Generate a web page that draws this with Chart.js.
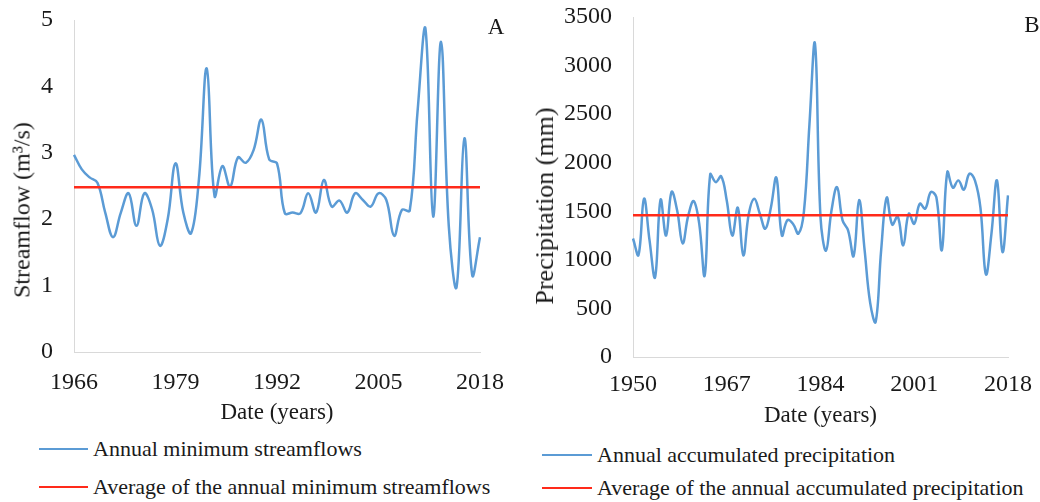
<!DOCTYPE html>
<html>
<head>
<meta charset="utf-8">
<title>Streamflow and precipitation</title>
<script src="https://cdn.jsdelivr.net/npm/chart.js@4.4.1/dist/chart.umd.min.js"></script>
<style>
    body {
        margin: 0;
        width: 1040px;
        height: 502px;
        position: relative;
        overflow: hidden;
        background: #fff;
        font-family: 'Liberation Serif', 'Times New Roman', serif;
        color: #1a1a1a;
    }
    .chart-box { position: absolute; top: 0; height: 430px; }
    #box-a { left: 0; width: 510px; }
    #box-b { left: 520px; width: 520px; }
    .y-title {
        position: absolute;
        white-space: nowrap;
        transform: translate(-50%, -50%) rotate(-90deg);
    }
    .panel-tag { position: absolute; font-size: 23px; transform: translate(-50%, -50%); }
    .legend-item {
        position: absolute;
        display: flex;
        align-items: center;
        font-size: 22px;
        white-space: nowrap;
        transform: translateY(-50%);
    }
    .legend-item .swatch { height: 2.5px; margin-right: 5px; }
</style>
</head>
<body>

<div id="box-a" class="chart-box"><canvas id="chart-a"></canvas></div>
<div id="box-b" class="chart-box"><canvas id="chart-b"></canvas></div>

<div class="y-title" style="left:22px; top:210px; font-size:24px;">Streamflow (m³/s)</div>
<div class="y-title" style="left:545px; top:206px; font-size:26px;">Precipitation (mm)</div>
<div class="panel-tag" style="left:496px; top:27px;">A</div>
<div class="panel-tag" style="left:1032px; top:25px;">B</div>

<div id="legend-a"></div>
<div id="legend-b"></div>

<script>
// --- data: panel A (annual minimum streamflows, m3/s) ---
const firstYearA = 1966;
const lastYearA = 2018;
const tickYearsA = ['1966', '1979', '1992', '2005', '2018'];
const streamflow = [
    2.97, 2.75, 2.63, 2.55, 2.10, 1.73, 2.10, 2.39, 1.90, 2.39,   // 1966-1975
    2.15, 1.60, 2.00, 2.84, 2.10, 1.79, 2.60, 4.27, 2.35, 2.80,   // 1976-1985
    2.49, 2.93, 2.85, 3.04, 3.50, 2.90, 2.84, 2.09, 2.10, 2.09,   // 1986-1995
    2.39, 2.10, 2.59, 2.19, 2.28, 2.10, 2.39, 2.29, 2.19, 2.39,   // 1996-2005
    2.29, 1.75, 2.14, 2.13, 3.62, 4.88, 2.04, 4.67, 1.90, 0.98,   // 2006-2015
    3.22, 1.16, 1.73                                              // 2016-2018
];
const streamflowAvg = 2.48;

// --- data: panel B (annual accumulated precipitation, mm) ---
const firstYearB = 1950;
const lastYearB = 2018;
const tickYearsB = ['1950', '1967', '1984', '2001', '2018'];
const precipitation = [
    1220, 1050, 1630, 1200, 820, 1620, 1250, 1700, 1510, 1170,    // 1950-1959
    1450, 1605, 1375, 840, 1880, 1800, 1860, 1610, 1250, 1537,    // 1960-1969
    1046, 1475, 1630, 1475, 1321, 1537, 1846, 1252, 1410, 1372,   // 1970-1979
    1270, 1500, 2400, 3225, 1440, 1095, 1510, 1749, 1407, 1304,   // 1980-1989
    1040, 1615, 1100, 560, 360, 1100, 1640, 1362, 1447, 1149,     // 1990-1999
    1475, 1372, 1578, 1527, 1698, 1646, 1100, 1904, 1743, 1818,   // 2000-2009
    1722, 1887, 1818, 1537, 851, 1270, 1818, 1080, 1663           // 2010-2018
];
const precipitationAvg = 1458;

const blue = '#5b9bd5';
const red = '#ff2a1a';
const axisGrey = '#d9d9d9';
const textColor = '#1a1a1a';
const serif = "'Liberation Serif', 'Times New Roman', serif";

function yearRange(from, to) {
    const out = [];
    for (let y = from; y <= to; y++) out.push(String(y));
    return out;
}

function buildChart(canvasId, cfg) {
    const labels = yearRange(cfg.firstYear, cfg.lastYear);
    return new Chart(document.getElementById(canvasId), {
        type: 'line',
        data: {
            labels: labels,
            datasets: [{
                label: cfg.seriesLabel,
                data: cfg.values,
                borderColor: blue,
                borderWidth: 2.5,
                pointRadius: 0,
                tension: 0.4,
                fill: false,
                order: 1
            }, {
                label: cfg.avgLabel,
                data: [
                    { x: labels[0], y: cfg.avg },
                    { x: labels[labels.length - 1], y: cfg.avg }
                ],
                borderColor: red,
                borderWidth: 2.5,
                pointRadius: 0,
                fill: false,
                order: 0
            }]
        },
        options: {
            responsive: true,
            maintainAspectRatio: false,
            animation: false,
            layout: { padding: cfg.padding },
            plugins: {
                legend: { display: false },
                tooltip: { enabled: false }
            },
            scales: {
                x: {
                    type: 'category',
                    offset: false,
                    grid: { drawOnChartArea: false, drawTicks: false },
                    border: { display: true, color: axisGrey, width: 1 },
                    ticks: {
                        autoSkip: false,
                        maxRotation: 0,
                        minRotation: 0,
                        padding: cfg.xTickPad,
                        color: textColor,
                        font: { family: serif, size: 24 },
                        callback: function (value) {
                            const lab = this.getLabelForValue(value);
                            return cfg.tickYears.includes(lab) ? lab : null;
                        }
                    },
                    title: {
                        display: true,
                        text: 'Date (years)',
                        color: textColor,
                        font: { family: serif, size: 23 },
                        padding: { top: 0, bottom: cfg.xTitlePad }
                    },
                    afterFit: (scale) => {
                        scale.height = cfg.xHeight;
                        // the plot edges come from layout.padding only
                        scale.paddingLeft = 0;
                        scale.paddingRight = 0;
                    }
                },
                y: {
                    min: 0,
                    max: cfg.yMax,
                    grid: { drawOnChartArea: false, drawTicks: false },
                    border: { display: true, color: axisGrey, width: 1 },
                    ticks: {
                        stepSize: cfg.yStep,
                        padding: 21,
                        color: textColor,
                        font: { family: serif, size: 24 },
                        callback: (value) => String(value)
                    },
                    afterFit: (scale) => {
                        scale.width = cfg.yWidth;
                        scale.paddingTop = 0;
                        scale.paddingBottom = 0;
                    }
                }
            }
        }
    });
}

function drawLegend(chart, holderId, pos) {
    const holder = document.getElementById(holderId);
    chart.data.datasets.forEach((ds, i) => {
        const item = document.createElement('div');
        item.className = 'legend-item';
        item.style.left = pos.left + 'px';
        item.style.top = pos.tops[i] + 'px';
        const swatch = document.createElement('span');
        swatch.className = 'swatch';
        swatch.style.width = pos.swatch + 'px';
        swatch.style.background = ds.borderColor;
        const text = document.createElement('span');
        text.textContent = ds.label;
        item.appendChild(swatch);
        item.appendChild(text);
        holder.appendChild(item);
    });
}

const chartA = buildChart('chart-a', {
    firstYear: firstYearA, lastYear: lastYearA, tickYears: tickYearsA,
    values: streamflow, avg: streamflowAvg,
    seriesLabel: 'Annual minimum streamflows',
    avgLabel: 'Average of the annual minimum streamflows',
    yMax: 5, yStep: 1,
    padding: { left: 0, top: 20, right: 30, bottom: 0 },
    yWidth: 74, xHeight: 78, xTickPad: 16, xTitlePad: 3
});

const chartB = buildChart('chart-b', {
    firstYear: firstYearB, lastYear: lastYearB, tickYears: tickYearsB,
    values: precipitation, avg: precipitationAvg,
    seriesLabel: 'Annual accumulated precipitation',
    avgLabel: 'Average of the annual accumulated precipitation',
    yMax: 3500, yStep: 500,
    padding: { left: 0, top: 17, right: 32, bottom: 0 },
    yWidth: 113, xHeight: 73, xTickPad: 13, xTitlePad: 0
});

drawLegend(chartA, 'legend-a', { left: 39, tops: [449, 487], swatch: 49 });
drawLegend(chartB, 'legend-b', { left: 542, tops: [455, 488], swatch: 50 });
</script>
</body>
</html>
